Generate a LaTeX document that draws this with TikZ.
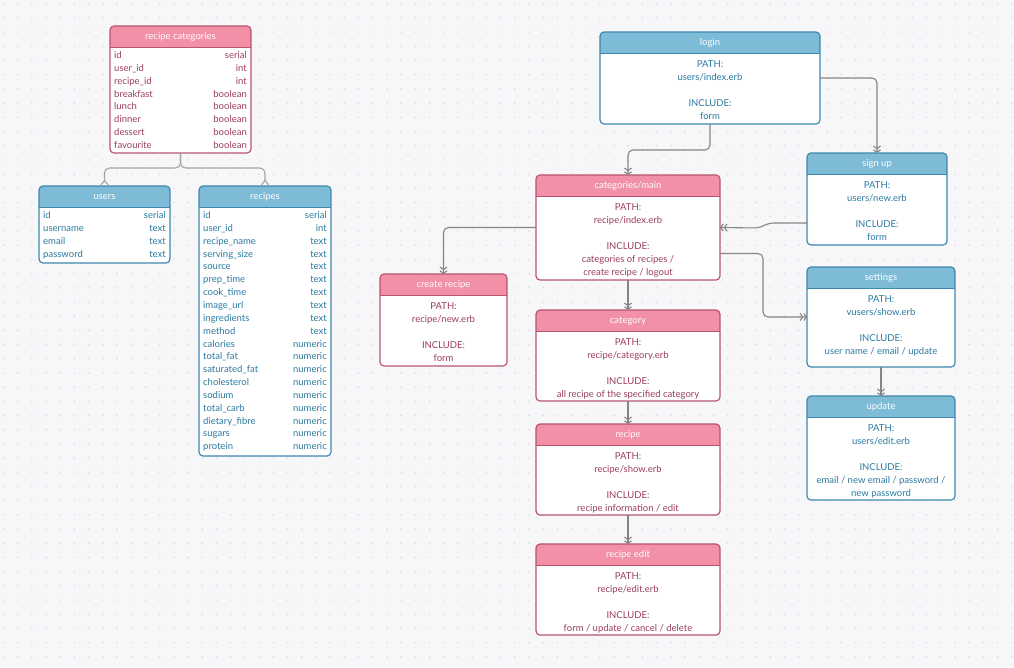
\documentclass[tikz,border=0pt]{standalone}
\usepackage{fontspec}
\setmainfont{Lato}
\usepackage{tikz}
\usetikzlibrary{arrows.meta}

\definecolor{pagebg}{HTML}{F7F7F9}
\definecolor{dotgray}{HTML}{DCDCE2}
\definecolor{linkgray}{HTML}{858585}
\definecolor{pinkhead}{HTML}{F190A6}
\definecolor{pinkline}{HTML}{B9556F}
\definecolor{pinktext}{HTML}{9C3D5C}
\definecolor{bluehead}{HTML}{7EBBD6}
\definecolor{blueline}{HTML}{3E88AE}
\definecolor{bluetext}{HTML}{2A7AA0}

% box with a coloured title bar: name, colour, x, y, width, height, title, body
\newcommand{\pagebox}[8]{%
  \node[boxbody, minimum width=#5pt, minimum height=#6pt, anchor=north west] (#1) at (#3,#4) {};
  \begin{scope}
    \clip[rounded corners=4pt] (#1.south west) rectangle (#1.north east);
    \fill[#2head] (#1.north west) rectangle ([yshift=-21pt]#1.north east);
  \end{scope}
  \draw[#2line, line width=1pt] ([yshift=-21pt]#1.north west) -- ([yshift=-21pt]#1.north east);
  \draw[#2line, line width=1.2pt, rounded corners=4pt] (#1.south west) rectangle (#1.north east);
  \node[headtext] (#1-title) at ([yshift=-11pt]#1.north) {#7};
  \node[#2body, anchor=north] (#1-body) at ([yshift=-28pt]#1.north) {#8};
}

% table rows: name, colour, x, y, width, list of field/type
\newcommand{\fieldrows}[6]{%
  \foreach \fname/\ftype [count=\i from 0] in {#6} {
    \pgfmathsetmacro\ry{#4+30+12.85*\i}
    \node[#2field, anchor=west] (#1-n\i) at ({#3+4},\ry) {\fname};
    \node[#2field, anchor=east] (#1-t\i) at ({#3+#5-4},\ry) {\ftype};
  }
}

\begin{document}
\begin{tikzpicture}[
    x=1pt,
    y=-1pt,
    every node/.style={font=\fontsize{9.5}{13}\selectfont},
    boxbody/.style={rectangle, fill=white, inner sep=0pt, outer sep=0pt},
    headtext/.style={text=white, inner sep=0pt, text height=7pt, text depth=2pt},
    pinkbody/.style={text=pinktext, align=center, inner sep=0pt},
    bluebody/.style={text=bluetext, align=center, inner sep=0pt},
    pinkfield/.style={text=pinktext, inner sep=0pt, text height=7pt, text depth=2pt},
    bluefield/.style={text=bluetext, inner sep=0pt, text height=7pt, text depth=2pt},
    flow/.style={draw=linkgray, line width=1.1pt, rounded corners=5pt,
      -{Straight Barb[length=2.5pt,width=7pt] Straight Barb[length=2.5pt,width=7pt]}},
    relation/.style={draw=linkgray!75, line width=1.1pt, rounded corners=5pt,
      -{Straight Barb[reversed,length=5pt,width=8pt]}}
  ]
    \useasboundingbox (0,0) rectangle (1014,667);
    \fill[pagebg] (0,0) rectangle (1014,667);
    \foreach \gx in {0,...,71}
      \foreach \gy in {0,...,46}
        \fill[dotgray] ({3.5+14.2*\gx},{3.7+14.2*\gy}) circle (0.9pt);

    % database tables
    \pagebox{recipecat}{pink}{110}{26}{141}{127}{recipe categories}{}
    \fieldrows{recipecat}{pink}{110}{26}{141}{id/serial, user\_id/int, recipe\_id/int,
      breakfast/boolean, lunch/boolean, dinner/boolean, dessert/boolean, favourite/boolean}

    \pagebox{users}{blue}{39}{186}{131}{77}{users}{}
    \fieldrows{users}{blue}{39}{186}{131}{id/serial, username/text, email/text, password/text}

    \pagebox{recipes}{blue}{199}{186}{132}{270}{recipes}{}
    \fieldrows{recipes}{blue}{199}{186}{132}{id/serial, user\_id/int, recipe\_name/text,
      serving\_size/text, source/text, prep\_time/text, cook\_time/text, image\_url/text,
      ingredients/text, method/text, calories/numeric, total\_fat/numeric,
      saturated\_fat/numeric, cholesterol/numeric, sodium/numeric, total\_carb/numeric,
      dietary\_fibre/numeric, sugars/numeric, protein/numeric}

    % pages
    \pagebox{login}{blue}{600}{32}{220}{92}{login}
      {PATH:\\users/index.erb\\[13pt]INCLUDE:\\form}
    \pagebox{signup}{blue}{807}{153}{140}{92}{sign up}
      {PATH:\\users/new.erb\\[13pt]INCLUDE:\\form}
    \pagebox{catmain}{pink}{536}{175}{184}{105}{categories/main}
      {PATH:\\recipe/index.erb\\[13pt]INCLUDE:\\categories of recipes /\\create recipe / logout}
    \pagebox{createrecipe}{pink}{380}{274}{127}{92}{create recipe}
      {PATH:\\recipe/new.erb\\[13pt]INCLUDE:\\form}
    \pagebox{settings}{blue}{807}{267}{148}{100}{settings}
      {PATH:\\vusers/show.erb\\[13pt]INCLUDE:\\user name / email / update}
    \pagebox{update}{blue}{807}{396}{148}{104}{update}
      {PATH:\\users/edit.erb\\[13pt]INCLUDE:\\email / new email / password /\\new password}
    \pagebox{category}{pink}{536}{310}{184}{91}{category}
      {PATH:\\recipe/category.erb\\[13pt]INCLUDE:\\all recipe of the specified category}
    \pagebox{recipe}{pink}{536}{424}{184}{91}{recipe}
      {PATH:\\recipe/show.erb\\[13pt]INCLUDE:\\recipe information / edit}
    \pagebox{recipeedit}{pink}{536}{544}{184}{91}{recipe edit}
      {PATH:\\recipe/edit.erb\\[13pt]INCLUDE:\\form / update / cancel / delete}

    % relations
    \draw[relation] (recipecat.south) -- ++(0,15) -| (users.north);
    \draw[relation] (recipecat.south) -- ++(0,15) -| (recipes.north);

    % page flow
    \draw[flow] (login.south) -- ++(0,26) -| (catmain.north);
    \draw[flow] (login.east) -| (signup.north);
    \draw[flow] ([yshift=-24pt]signup.west) -- ++(-38,0) -- ++(-10,5) -- (catmain.east);
    \draw[flow] (catmain.west) -| (createrecipe.north);
    \draw[flow] ([yshift=-26pt]catmain.east) -- ++(43,0) |- (settings.west);
    \draw[flow] (catmain.south) -- (category.north);
    \draw[flow] (category.south) -- (recipe.north);
    \draw[flow] (recipe.south) -- (recipeedit.north);
    \draw[flow] (settings.south) -- (update.north);
  \end{tikzpicture}
\end{document}
